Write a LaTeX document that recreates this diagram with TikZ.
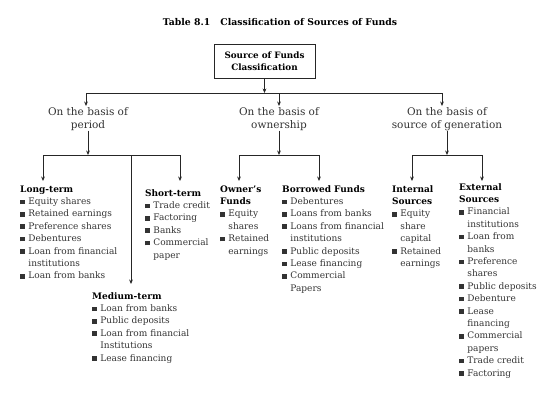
\documentclass[tikz,border=0pt]{standalone}
\usepackage{fontspec}
\setmainfont{DejaVu Serif}
\usetikzlibrary{arrows.meta}
\definecolor{txt}{HTML}{333333}
\newcommand\bsq{\rule[0.3pt]{4.6pt}{4.6pt}}
\newcommand\hd[1]{\multicolumn{2}{@{}l@{}}{\bfseries\color{black}#1}}
\newcommand\flist[1]{\begin{tabular}[t]{@{}l@{\hspace{3.6pt}}l@{}}#1\end{tabular}}
\tikzset{
  arr/.style={draw=black!85, line width=0.7pt, -{Stealth[length=4.5pt,width=3.8pt]}},
  ln/.style={draw=black!85, line width=0.7pt},
  lbl/.style={align=center, inner sep=0pt, text=txt, font=\fontsize{10.5}{12.5}\selectfont},
  lst/.style={anchor=base west, inner sep=0pt, text=txt, font=\fontsize{9}{12.4}\selectfont},
}
\begin{document}
\begin{tikzpicture}[x=1pt,y=-1pt]
\useasboundingbox (0,0) rectangle (550,405);
\node[font=\bfseries\fontsize{9.3}{10}\selectfont, inner sep=0pt] (title) at (280,22) {Table 8.1\hspace{1.1em}Classification of Sources of Funds};
\node[draw=black!85, line width=0.8pt, minimum width=101pt, minimum height=34pt, align=center, inner sep=0pt,
      font=\bfseries\fontsize{8.8}{12}\selectfont] (root) at (264.5,61) {Source of Funds\\Classification};

% level 1
\coordinate (t1) at (86,93);
\coordinate (t2) at (279,93);
\coordinate (t3) at (442,93);
\draw[ln] (t1) -- (t3);
\draw[arr] (root.south) -- (root.south |- t1);
\node[lbl] (per) at (88,119) {On the basis of\\period};
\node[lbl] (own) at (279,119) {On the basis of\\ownership};
\node[lbl] (gen) at (447,119) {On the basis of\\source of generation};
\draw[arr] (t1) -- (86,106);
\draw[arr] (t2) -- (279,106);
\draw[arr] (t3) -- (442,106);

% level 2 lists
\node[lst] (long) at (20,192) {\flist{\hd{Long-term}\\
 \bsq & Equity shares\\
 \bsq & Retained earnings\\
 \bsq & Preference shares\\
 \bsq & Debentures\\
 \bsq & Loan from financial\\
      & institutions\\
 \bsq & Loan from banks}};
\node[lst] (short) at (145,196) {\flist{\hd{Short-term}\\
 \bsq & Trade credit\\
 \bsq & Factoring\\
 \bsq & Banks\\
 \bsq & Commercial\\
      & paper}};
\node[lst] (medium) at (92,299) {\flist{\hd{Medium-term}\\
 \bsq & Loan from banks\\
 \bsq & Public deposits\\
 \bsq & Loan from financial\\
      & Institutions\\
 \bsq & Lease financing}};
\node[lst] (owner) at (220,192) {\flist{\hd{Owner's}\\ \hd{Funds}\\
 \bsq & Equity\\
      & shares\\
 \bsq & Retained\\
      & earnings}};
\node[lst] (borrow) at (282,192) {\flist{\hd{Borrowed Funds}\\
 \bsq & Debentures\\
 \bsq & Loans from banks\\
 \bsq & Loans from financial\\
      & institutions\\
 \bsq & Public deposits\\
 \bsq & Lease financing\\
 \bsq & Commercial\\
      & Papers}};
\node[lst] (internal) at (392,192) {\flist{\hd{Internal}\\ \hd{Sources}\\
 \bsq & Equity\\
      & share\\
      & capital\\
 \bsq & Retained\\
      & earnings}};
\node[lst] (external) at (459,190) {\flist{\hd{External}\\ \hd{Sources}\\
 \bsq & Financial\\
      & institutions\\
 \bsq & Loan from\\
      & banks\\
 \bsq & Preference\\
      & shares\\
 \bsq & Public deposits\\
 \bsq & Debenture\\
 \bsq & Lease\\
      & financing\\
 \bsq & Commercial\\
      & papers\\
 \bsq & Trade credit\\
 \bsq & Factoring}};

% period branch
\coordinate (pa) at (43,155);
\coordinate (pb) at (180,155);
\coordinate (pm) at (131,155);
\draw[arr] (per.south) -- (88,155);
\draw[ln] (pa) -- (pb);
\draw[arr] (pa) -- (43,181);
\draw[arr] (pb) -- (180,181);
\draw[arr] (pm) -- (131,284);

% ownership branch
\coordinate (oa) at (239,155);
\coordinate (ob) at (319,155);
\draw[arr] (own.south) -- (279,155);
\draw[ln] (oa) -- (ob);
\draw[arr] (oa) -- (239,181);
\draw[arr] (ob) -- (319,181);

% generation branch
\coordinate (ga) at (412,155);
\coordinate (gb) at (482,155);
\draw[arr] (gen.south) -- (447,155);
\draw[ln] (ga) -- (gb);
\draw[arr] (ga) -- (412,181);
\draw[arr] (gb) -- (482,181);
\end{tikzpicture}
\end{document}
